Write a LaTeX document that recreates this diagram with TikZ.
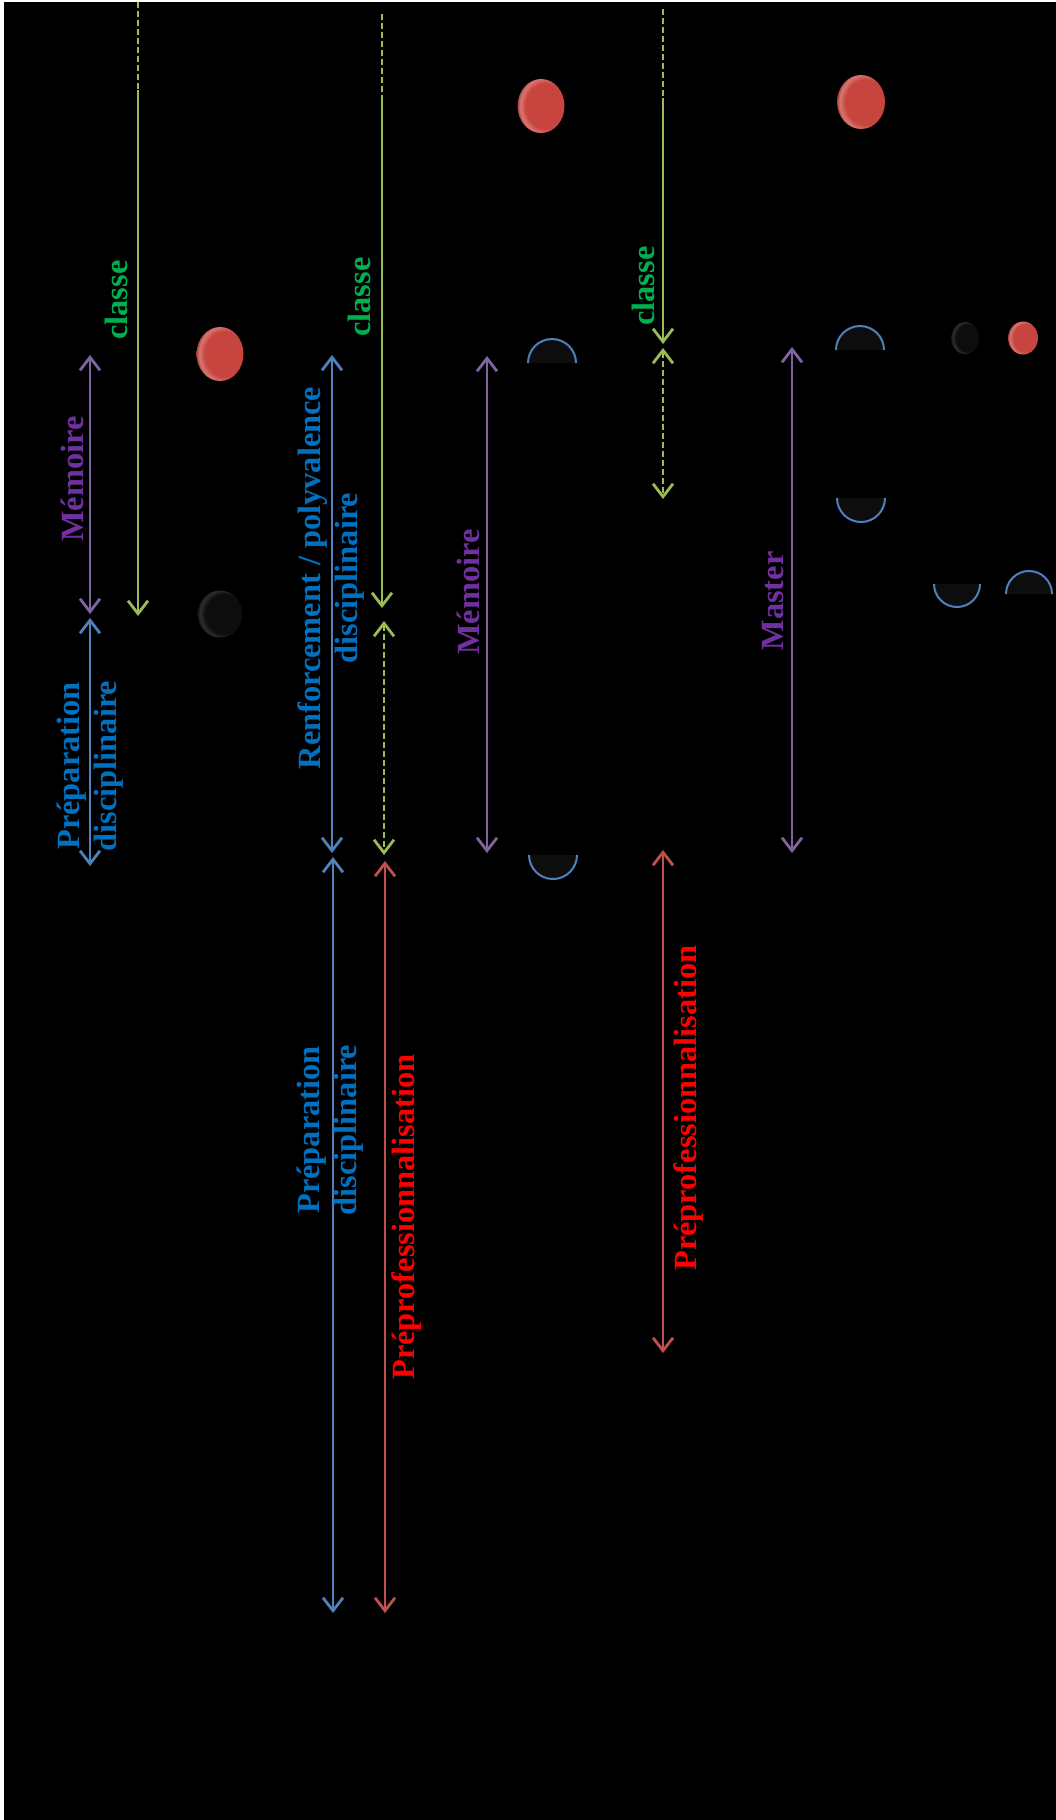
\documentclass[tikz,border=0pt]{standalone}
\usepackage{fontspec}
\setmainfont{Liberation Serif}
\usetikzlibrary{arrows.meta}

\definecolor{greenline}{RGB}{155,187,89}
\definecolor{purpleline}{RGB}{128,100,162}
\definecolor{blueline}{RGB}{79,129,189}
\definecolor{redline}{RGB}{192,80,77}
\definecolor{greentext}{RGB}{0,176,80}
\definecolor{purpletext}{RGB}{112,48,160}
\definecolor{bluetext}{RGB}{0,112,192}
\definecolor{redtext}{RGB}{255,0,0}
\definecolor{ballred}{RGB}{200,68,62}
\definecolor{capfill}{RGB}{13,13,13}

\pgfdeclareradialshading{redball}{\pgfqpoint{8bp}{0bp}}{color(0bp)=(ballred); color(21bp)=(ballred); color(26bp)=(ballred!72!white); color(29bp)=(ballred!80!black); color(50bp)=(ballred!80!black)}
\pgfdeclareradialshading{darkball}{\pgfqpoint{8bp}{0bp}}{color(0bp)=(capfill); color(21bp)=(capfill); color(26bp)=(black!82!white); color(29bp)=(capfill); color(50bp)=(capfill)}

\tikzset{
  lbl/.style={rotate=90, inner sep=0pt, align=center, font=\fontsize{16.2}{18.5}\selectfont\bfseries},
  both/.style={line width=1.4pt, {Straight Barb[length=6.5pt,width=10pt]}-{Straight Barb[length=6.5pt,width=10pt]}},
  down/.style={line width=1.4pt, -{Straight Barb[length=6.5pt,width=10pt]}},
  greendash/.style={line width=1.4pt, greenline, dash pattern=on 3pt off 1.5pt},
  capline/.style={draw=blueline, line width=1pt}
}

\begin{document}
\begin{tikzpicture}[x=0.5pt,y=-0.5pt]
\useasboundingbox (0,0) rectangle (1055,1820);
\fill[white] (0,0) rectangle (1055,1820);
\fill[black] (4,2) rectangle (1065,1830);

\foreach \n/\x/\ya/\yb in {memA/90/355/614, prepA/90/618/866, renB/332/355/853, prepB/333/857/1613,
  proB/385/861/1613, memB/487/356/853, proC/663/850/1353, mas/792/347/853}{
\coordinate (\n1) at (\x,\ya);
\coordinate (\n2) at (\x,\yb);
}
\coordinate (gA0) at (138,2); \coordinate (gA1) at (138,90); \coordinate (gA2) at (138,616);
\coordinate (gB0) at (382,14); \coordinate (gB1) at (382,98); \coordinate (gB2) at (382,608);
\coordinate (gB3) at (384,621); \coordinate (gB4) at (384,855);
\coordinate (gC0) at (663,9); \coordinate (gC1) at (663,98); \coordinate (gC2) at (663,344);
\coordinate (gC3) at (663,348); \coordinate (gC4) at (663,499);

\draw[greendash] (gA0) -- (gA1);
\draw[down, greenline] (gA1) -- (gA2);
\draw[greendash] (gB0) -- (gB1);
\draw[down, greenline] (gB1) -- (gB2);
\draw[both, greendash] (gB3) -- (gB4);
\draw[greendash] (gC0) -- (gC1);
\draw[down, greenline] (gC1) -- (gC2);
\draw[both, greendash] (gC3) -- (gC4);

\draw[both, purpleline] (memA1) -- (memA2);
\draw[both, purpleline] (memB1) -- (memB2);
\draw[both, purpleline] (mas1) -- (mas2);
\draw[both, blueline] (prepA1) -- (prepA2);
\draw[both, blueline] (renB1) -- (renB2);
\draw[both, blueline] (prepB1) -- (prepB2);
\draw[both, redline] (proB1) -- (proB2);
\draw[both, redline] (proC1) -- (proC2);

\foreach \cx/\fy/\r/\ea in {552/363/24/360, 553/855/24/0, 860/350/24/360, 861/498/24/0, 957/584/23/0, 1029/594/23/360}{
\fill[capfill] (\cx-\r,\fy) arc[start angle=180, end angle=\ea, radius=\r] -- cycle;
\draw[capline] (\cx-\r,\fy) arc[start angle=180, end angle=\ea, radius=\r];
}

\foreach \bx/\by/\rx/\ry in {220/354/23.5/27, 541/106/23.5/27, 861/102/24/27, 1023/338/15/16.5}
\shade[shading=redball] (\bx,\by) ellipse [x radius=\rx, y radius=\ry];
\foreach \bx/\by/\rx/\ry in {220/614/22.5/23.5, 965/338/14/16}
\shade[shading=darkball] (\bx,\by) ellipse [x radius=\rx, y radius=\ry];

\node[lbl, text=greentext] (classeA) at (116,300) {classe};
\node[lbl, text=greentext] (classeB) at (359,297) {classe};
\node[lbl, text=greentext] (classeC) at (643,286) {classe};
\node[lbl, text=purpletext] (memoireA) at (72,479) {Mémoire};
\node[lbl, text=purpletext] (memoireB) at (468,592) {Mémoire};
\node[lbl, text=purpletext] (master) at (773,601) {Master};
\node[lbl, text=bluetext] (prepdiscA) at (90,766) {Préparation\\disciplinaire};
\node[lbl, text=bluetext] (renfB) at (331,578) {Renforcement / polyvalence\\disciplinaire};
\node[lbl, text=bluetext] (prepdiscB) at (330,1130) {Préparation\\disciplinaire};
\node[lbl, text=redtext] (preproB) at (407,1217) {Préprofessionnalisation};
\node[lbl, text=redtext] (preproC) at (689,1108) {Préprofessionnalisation};
\end{tikzpicture}
\end{document}
